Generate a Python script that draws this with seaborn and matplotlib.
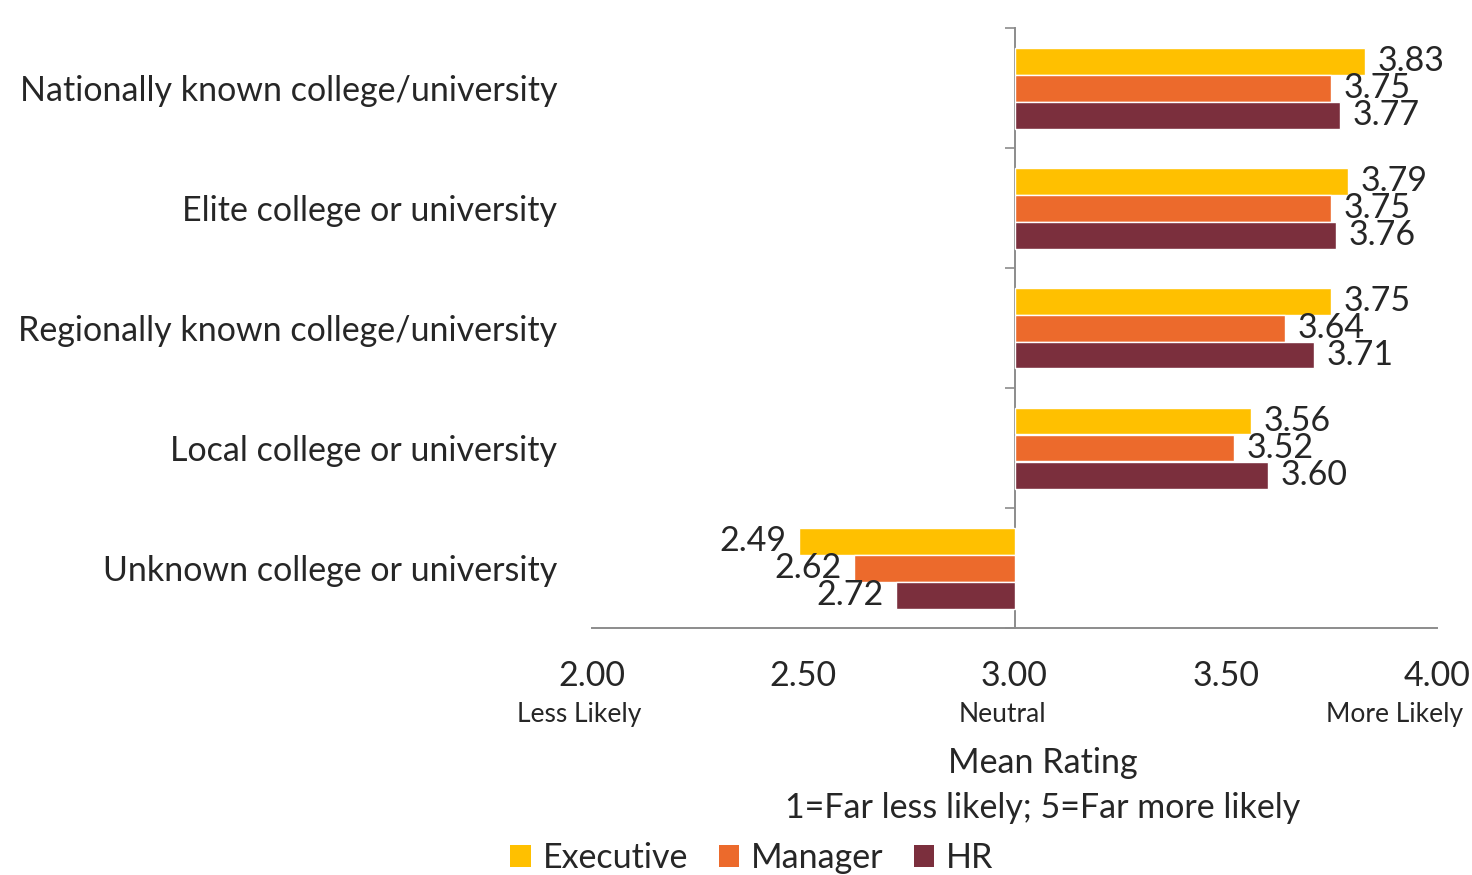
import numpy as np
import pandas as pd
import matplotlib
matplotlib.use("Agg")
import matplotlib.pyplot as plt
import matplotlib.ticker as mticker
from matplotlib.patches import Patch
import seaborn as sns

categories = [
    "Nationally known college/university",
    "Elite college or university",
    "Regionally known college/university",
    "Local college or university",
    "Unknown college or university",
]
roles = ["Executive", "Manager", "HR"]
executive = [3.83, 3.79, 3.75, 3.56, 2.49]
manager = [3.75, 3.75, 3.64, 3.52, 2.62]
hr = [3.77, 3.76, 3.71, 3.60, 2.72]
colors = ["#FFC000", "#EC6A2C", "#7B2F3D"]

x_ticks = [2.0, 2.5, 3.0, 3.5, 4.0]
anchor_vals = [2.0, 3.0, 4.0]
anchor_text = ["Less Likely", "Neutral", "More Likely"]
NEUTRAL = 3.0

sns.set_style("white")
plt.rcParams["font.family"] = ["Lato", "DejaVu Sans"]

series = {"Executive": executive, "Manager": manager, "HR": hr}
df = pd.DataFrame(
    [(c, r, v) for r in roles for c, v in zip(categories, series[r])],
    columns=["category", "role", "rating"],
)
df["offset"] = df["rating"] - NEUTRAL

fig = plt.figure(figsize=(14.72, 8.75), dpi=100)
ax = fig.add_axes([592 / 1472, 1 - 628 / 875, 845 / 1472, 600 / 875])

sns.barplot(
    data=df, x="offset", y="category", hue="role", hue_order=roles,
    order=categories, palette=colors, orient="h", width=0.675,
    saturation=1, errorbar=None, legend=False, ax=ax,
)

for cont, r in zip(ax.containers, roles):
    ax.bar_label(cont, labels=[f"{v:.2f}" for v in series[r]],
                 padding=9, fontsize=24.5)

gray = "#8C8C8C"
ax.set_xlim(x_ticks[0] - NEUTRAL, x_ticks[-1] - NEUTRAL)
ax.set_xticks([t - NEUTRAL for t in x_ticks])
ax.xaxis.set_major_formatter(mticker.FuncFormatter(lambda v, _: f"{v + NEUTRAL:.2f}"))
ax.tick_params(axis="x", direction="inout", length=12, width=1.2,
               color=gray, labelsize=24.5, pad=17)
ax.tick_params(axis="y", length=0, labelsize=24.5, pad=25)
ax.set_xlabel("")
ax.set_ylabel("")
for s in ["top", "right", "left"]:
    ax.spines[s].set_visible(False)
ax.spines["bottom"].set_color(gray)
ax.spines["bottom"].set_linewidth(1.4)

# vertical axis at the neutral point, ticks between categories
sec = ax.secondary_yaxis(0.5)
sec.set_alignment("left")
sec.set_yticks(np.arange(len(categories) + 1) - 0.5)
sec.set_yticklabels([])
sec.tick_params(length=7, width=1.2, color=gray)
sec.spines["left"].set_color(gray)
sec.spines["left"].set_linewidth(1.4)

for v, t in zip(anchor_vals, anchor_text):
    ha = "right" if v == anchor_vals[-1] else "center"
    dx = 19 if v == anchor_vals[-1] else -9
    ax.annotate(t, xy=(v - NEUTRAL, 0), xycoords=("data", "axes fraction"),
                xytext=(dx, -62), textcoords="offset points",
                ha=ha, va="center", fontsize=19)

fig.text(1043 / 1472, 1 - 763 / 875, "Mean Rating", ha="center", va="center", fontsize=24.5)
fig.text(1043 / 1472, 1 - 808 / 875, "1=Far less likely; 5=Far more likely",
         ha="center", va="center", fontsize=24.5)

handles = [Patch(facecolor=c, edgecolor="none") for c in colors]
fig.legend(handles, roles, loc="center", bbox_to_anchor=(752 / 1472, 1 - 858 / 875),
           ncol=3, frameon=False, fontsize=24.5, handlelength=0.6, handleheight=0.6,
           handletextpad=0.35, columnspacing=0.9)

fig.savefig("out.png", dpi=100)
